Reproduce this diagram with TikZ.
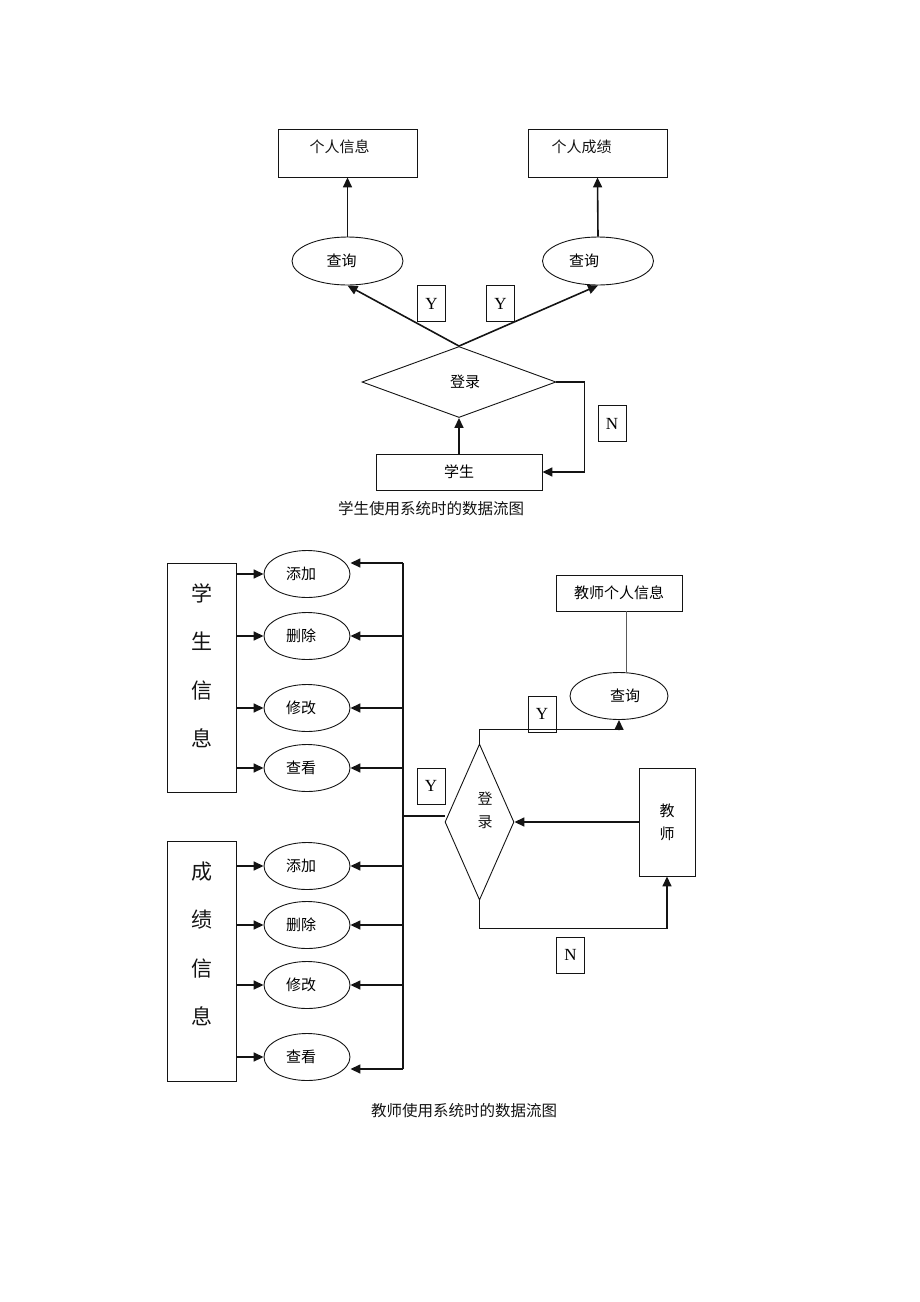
\documentclass[tikz,border=0pt]{standalone}
\usepackage{fontspec}
\setmainfont{Liberation Serif}
\newfontfamily\cjk{Noto Sans CJK SC}
\usetikzlibrary{shapes.geometric, arrows.meta, positioning}
\usepackage{xcolor}
\definecolor{textdark}{RGB}{20, 20, 20}
\definecolor{linkgray}{RGB}{90, 90, 90}

\begin{document}
\begin{tikzpicture}[
    x=1pt, y=-1pt,
    box/.style={rectangle, draw=textdark, line width=0.9pt, inner sep=0pt, font=\cjk\fontsize{15}{23}\selectfont, align=center},
    bigbox/.style={rectangle, draw=textdark, line width=0.9pt, inner sep=0pt, minimum width=69pt},
    txt/.style={font=\cjk\fontsize{15}{23}\selectfont, align=center, color=textdark},
    vtext/.style={font=\cjk\fontsize{21}{48.5}\selectfont, align=center, color=textdark},
    oval/.style={ellipse, draw=textdark, line width=0.9pt, inner sep=0pt, minimum width=86pt, minimum height=47pt, font=\cjk\fontsize{15}{18}\selectfont},
    nudge/.style={execute at begin node=\hspace*{#1}},
    decision/.style={diamond, draw=textdark, line width=0.9pt, inner sep=0pt, font=\cjk\fontsize{15}{18}\selectfont},
    tag/.style={rectangle, draw=textdark, line width=0.9pt, minimum width=28pt, minimum height=36pt, inner sep=0pt, font=\fontsize{17}{20}\selectfont},
    arrow/.style={-{Triangle[length=10pt, width=9pt]}, line width=1.6pt, color=textdark},
    link/.style={line width=1.4pt, color=textdark},
    caption/.style={font=\cjk\fontsize{15.5}{18}\selectfont, color=textdark}
]
\useasboundingbox (0,0) rectangle (920,1302);

% Student side
\node[box, minimum width=139pt, minimum height=48pt, label={[txt, xshift=-8pt, yshift=6pt]center:个人信息}] (info) at (347.5,153) {};
\node[box, minimum width=139pt, minimum height=48pt, label={[txt, xshift=-16pt, yshift=6pt]center:个人成绩}] (score) at (597.5,153) {};

\node[oval, nudge=-12pt, minimum width=111pt, minimum height=48pt] (qryinfo) at (347.5,261) {查询};
\node[oval, nudge=-28pt, minimum width=111pt, minimum height=48pt] (qryscore) at (598,261) {查询};

\node[decision, nudge=12pt, minimum width=194pt, minimum height=71pt] (login) at (459,382) {登录};
\node[box, minimum width=166pt, minimum height=36pt] (student) at (459,472) {学生};

% Y / N marks
\node[tag] (ytagl) at (431.5,303.5) {Y};
\node[tag] (ytagr) at (500.5,303.5) {Y};
\node[tag] (ntag) at (612,423.5) {N};

\node[caption] (caption1) at (431,509) {学生使用系统时的数据流图};

% Arrows
\draw[arrow] (student.north) -- (login.south);
\draw[arrow] (login.north) -- (qryinfo.south);
\draw[arrow] (login.north) -- (qryscore.south);
\draw[arrow] (qryinfo.north) -- (info.south);
\draw[arrow] (qryscore.north) -- (score.south);
\draw[arrow] (login.east) -- ++(28,0) |- (student.east);

% Teacher side
\node[bigbox, minimum height=229pt, label={[vtext, yshift=12pt]center:学\\生\\信\\息}] (stuinfo) at (201.5,677.5) {};
\node[bigbox, minimum height=240pt, label={[vtext, yshift=17pt]center:成\\绩\\信\\息}] (scoinfo) at (201.5,961) {};

\node[oval, nudge=-12pt] (stuadd) at (307,574) {添加};
\node[oval, nudge=-12pt] (studel) at (307,636) {删除};
\node[oval, nudge=-12pt] (stumod) at (307,708) {修改};
\node[oval, nudge=-12pt] (stuview) at (307,768) {查看};

\node[oval, nudge=-12pt] (scoadd) at (307,866) {添加};
\node[oval, nudge=-12pt] (scodel) at (307,925) {删除};
\node[oval, nudge=-12pt] (scomod) at (307,985) {修改};
\node[oval, nudge=-12pt] (scoview) at (307,1057) {查看};

\coordinate (bustop) at (403,563);
\coordinate (busjoin) at (403,816);
\coordinate (busbot) at (403,1069);

\node[decision, minimum width=69pt, minimum height=156pt, label={[txt, xshift=5.5pt, yshift=12pt]center:登\\录}] (login2) at (479.5,822) {};
\node[box, minimum width=56pt, minimum height=108pt] (teacher) at (667,822) {教\\师};
\node[oval, nudge=12pt, minimum width=98pt] (qryteach) at (619,696) {查询};
\node[box, minimum width=126pt, minimum height=36pt] (teachinfo) at (619,593) {教师个人信息};

\node[tag] (ytag2) at (431,786) {Y};
\node[tag] (ytag3) at (542,714) {Y};
\node[tag] (ntag2) at (570.5,955) {N};

\node[caption] (caption2) at (464,1111) {教师使用系统时的数据流图};

% Arrows into the info boxes
\draw[arrow] (stuadd.west -| stuinfo.east) -- (stuadd.west);
\draw[arrow] (studel.west -| stuinfo.east) -- (studel.west);
\draw[arrow] (stumod.west -| stuinfo.east) -- (stumod.west);
\draw[arrow] (stuview.west -| stuinfo.east) -- (stuview.west);
\draw[arrow] (scoadd.west -| scoinfo.east) -- (scoadd.west);
\draw[arrow] (scodel.west -| scoinfo.east) -- (scodel.west);
\draw[arrow] (scomod.west -| scoinfo.east) -- (scomod.west);
\draw[arrow] (scoview.west -| scoinfo.east) -- (scoview.west);

% Bus from login
\draw[link] (bustop) -- (busbot);
\draw[link] (busjoin) -- (busjoin -| login2.west);
\draw[arrow] (bustop) -- (bustop -| stuadd.east);
\draw[arrow] (studel.east -| bustop) -- (studel.east);
\draw[arrow] (stumod.east -| bustop) -- (stumod.east);
\draw[arrow] (stuview.east -| bustop) -- (stuview.east);
\draw[arrow] (scoadd.east -| bustop) -- (scoadd.east);
\draw[arrow] (scodel.east -| bustop) -- (scodel.east);
\draw[arrow] (scomod.east -| bustop) -- (scomod.east);
\draw[arrow] (busbot) -- (busbot -| scoview.east);

% Teacher login
\draw[arrow] (teacher.west) -- (login2.east);
\draw[arrow] (login2.north) -- ++(0,-14) -| (qryteach.south);
\draw[arrow] (login2.south) -- ++(0,28) -| (teacher.south);
\draw[line width=0.9pt, color=linkgray] ([xshift=7pt]qryteach.north) -- ([xshift=7pt]teachinfo.south);

\end{tikzpicture}
\end{document}
